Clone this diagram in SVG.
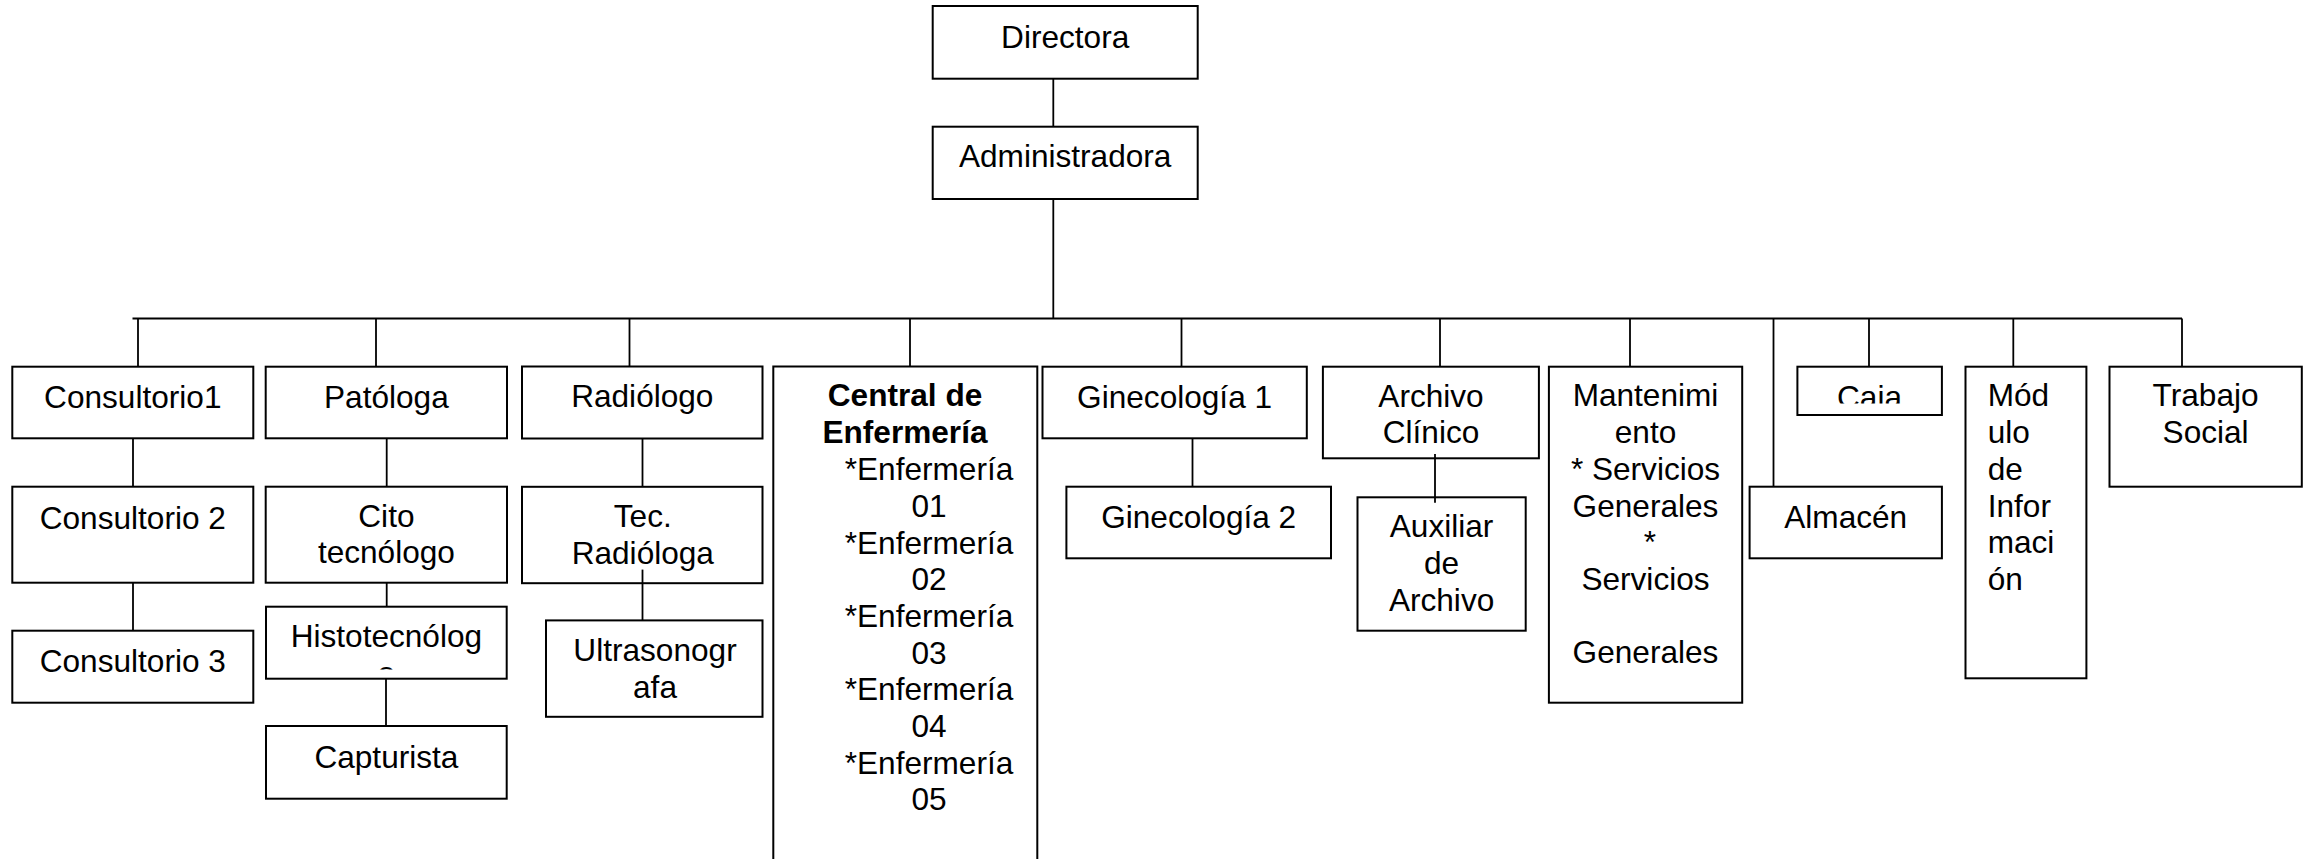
<svg xmlns="http://www.w3.org/2000/svg" width="2313" height="859" viewBox="0 0 2313 859">
<style>
rect.b{fill:#fff;stroke:#000;stroke-width:2}
text{font-family:"Liberation Sans",Arial,sans-serif;font-size:31.6px;fill:#000}
.c{text-anchor:middle}
.bold{font-weight:bold}
#connectors line{stroke:#000;stroke-width:1.8}
</style>
<defs>
<clipPath id="clipCaja"><rect x="1797" y="366" width="145" height="37.5"/></clipPath>
<clipPath id="clipHisto"><rect x="266" y="606" width="241" height="63.5"/></clipPath>
</defs>
<rect width="2313" height="859" fill="#fff"/>
<g id="connectors">
<line x1="1053.3" y1="78.7" x2="1053.3" y2="126.7"/>
<line x1="1053.3" y1="199" x2="1053.3" y2="318.5"/>
<line x1="132.5" y1="318.5" x2="2182" y2="318.5"/>
<line x1="138" y1="318.5" x2="138" y2="366.7"/>
<line x1="376" y1="318.5" x2="376" y2="366.7"/>
<line x1="629.5" y1="318.5" x2="629.5" y2="366.5"/>
<line x1="910" y1="318.5" x2="910" y2="366.5"/>
<line x1="1181.5" y1="318.5" x2="1181.5" y2="366.7"/>
<line x1="1440" y1="318.5" x2="1440" y2="366.7"/>
<line x1="1630" y1="318.5" x2="1630" y2="366.7"/>
<line x1="1773.5" y1="318.5" x2="1773.5" y2="486.7"/>
<line x1="1869" y1="318.5" x2="1869" y2="366.7"/>
<line x1="2013.3" y1="318.5" x2="2013.3" y2="366.7"/>
<line x1="2182" y1="318.5" x2="2182" y2="366.7"/>
<line x1="133" y1="438.3" x2="133" y2="486.7"/>
<line x1="133" y1="582.7" x2="133" y2="630.7"/>
<line x1="386.7" y1="438.3" x2="386.7" y2="486.7"/>
<line x1="386.7" y1="582.7" x2="386.7" y2="606.7"/>
<line x1="386" y1="678.7" x2="386" y2="726"/>
<line x1="642.5" y1="438.5" x2="642.5" y2="486.8"/>
<line x1="642.5" y1="569.6" x2="642.5" y2="620.4"/>
<line x1="1192.5" y1="438.3" x2="1192.5" y2="486.7"/>
</g>
<g id="directora"><rect class="b" x="932.7" y="6" width="265" height="72.7"/><text class="c" x="1065.2" y="48.3">Directora</text></g>
<g id="administradora"><rect class="b" x="932.7" y="126.7" width="265" height="72.3"/><text class="c" x="1065.2" y="166.7">Administradora</text></g>
<g id="consultorio1"><rect class="b" x="12.3" y="366.7" width="241" height="71.6"/><text class="c" x="132.8" y="408">Consultorio1</text></g>
<g id="consultorio2"><rect class="b" x="12.3" y="486.7" width="241" height="96"/><text class="c" x="132.8" y="529">Consultorio 2</text></g>
<g id="consultorio3"><rect class="b" x="12.3" y="630.7" width="241" height="72"/><text class="c" x="132.8" y="671.7">Consultorio 3</text></g>
<g id="patologa"><rect class="b" x="265.7" y="366.7" width="241.3" height="71.6"/><text class="c" x="386.4" y="408">Patóloga</text></g>
<g id="citotecnologo"><rect class="b" x="265.7" y="486.7" width="241.3" height="96"/><text class="c" x="386.4" y="526.7">Cito</text><text class="c" x="386.4" y="563.3">tecnólogo</text></g>
<g id="histotecnologo"><rect class="b" x="266" y="606.7" width="240.7" height="72"/><g clip-path="url(#clipHisto)"><text class="c" x="386.4" y="646.7">Histotecnólog</text><text class="c" x="386.4" y="683.5">o</text></g></g>
<g id="capturista"><rect class="b" x="266" y="726" width="240.7" height="72.7"/><text class="c" x="386.4" y="768">Capturista</text></g>
<g id="radiologo"><rect class="b" x="522" y="366.5" width="240.5" height="72"/><text class="c" x="642.3" y="406.5">Radiólogo</text></g>
<g id="tecradiologa"><rect class="b" x="522" y="486.8" width="240.5" height="96.4"/><text class="c" x="642.8" y="526.8">Tec.</text><text class="c" x="642.8" y="564.3">Radióloga</text><line x1="642.5" y1="569.6" x2="642.5" y2="583.2" stroke="#000" stroke-width="1.8"/></g>
<g id="ultrasonografa"><rect class="b" x="546" y="620.4" width="216.5" height="96.4"/><text class="c" x="655" y="661.4">Ultrasonogr</text><text class="c" x="655" y="697.5">afa</text></g>
<g id="central"><rect class="b" x="773.3" y="366.5" width="264" height="510"/>
<text class="c bold" x="905" y="406">Central de</text>
<text class="c bold" x="905" y="442.9">Enfermería</text>
<text class="c" x="929" y="480.4">*Enfermería</text>
<text class="c" x="929" y="517">01</text>
<text class="c" x="929" y="553.6">*Enfermería</text>
<text class="c" x="929" y="590.3">02</text>
<text class="c" x="929" y="627">*Enfermería</text>
<text class="c" x="929" y="663.6">03</text>
<text class="c" x="929" y="700.3">*Enfermería</text>
<text class="c" x="929" y="737">04</text>
<text class="c" x="929" y="773.6">*Enfermería</text>
<text class="c" x="929" y="810.3">05</text>
</g>
<g id="ginecologia1"><rect class="b" x="1042.5" y="366.7" width="264.3" height="71.6"/><text class="c" x="1174.6" y="408">Ginecología 1</text></g>
<g id="ginecologia2"><rect class="b" x="1066.4" y="486.7" width="264.6" height="71.6"/><text class="c" x="1198.7" y="528">Ginecología 2</text></g>
<g id="archivoclinico"><rect class="b" x="1322.9" y="366.7" width="216" height="91.6"/><text class="c" x="1431" y="406.7">Archivo</text><text class="c" x="1431" y="443.3">Clínico</text></g>
<g id="auxiliararchivo"><rect class="b" x="1357.5" y="497.3" width="168.2" height="133.4"/><text class="c" x="1441.6" y="537.3">Auxiliar</text><text class="c" x="1441.6" y="574">de</text><text class="c" x="1441.6" y="610.7">Archivo</text></g>
<line x1="1435" y1="454" x2="1435" y2="502.7" stroke="#000" stroke-width="1.8"/>
<g id="mantenimiento"><rect class="b" x="1548.9" y="366.7" width="193.3" height="336"/>
<text class="c" x="1645.5" y="406">Mantenimi</text>
<text class="c" x="1645.5" y="442.7">ento</text>
<text class="c" x="1645.5" y="480">* Servicios</text>
<text class="c" x="1645.5" y="516.7">Generales</text>
<text class="c" x="1650" y="553.3">*</text>
<text class="c" x="1645.5" y="590">Servicios</text>
<text class="c" x="1645.5" y="663.3">Generales</text>
</g>
<g id="almacen"><rect class="b" x="1749.6" y="486.7" width="192.3" height="71.6"/><text class="c" x="1845.7" y="528">Almacén</text></g>
<g id="caja"><rect class="b" x="1797.4" y="366.7" width="144.5" height="48.3"/><g clip-path="url(#clipCaja)"><text class="c" x="1869.5" y="407.6">Caja</text></g></g>
<g id="modulo"><rect class="b" x="1965.5" y="366.7" width="120.9" height="311.6"/>
<text x="1987.7" y="406">Mód</text>
<text x="1987.7" y="442.7">ulo</text>
<text x="1987.7" y="480">de</text>
<text x="1987.7" y="516.7">Infor</text>
<text x="1987.7" y="553.3">maci</text>
<text x="1987.7" y="590">ón</text>
</g>
<g id="trabajosocial"><rect class="b" x="2109.5" y="366.7" width="192.3" height="120"/><text class="c" x="2205.6" y="406">Trabajo</text><text class="c" x="2205.6" y="442.7">Social</text></g>
</svg>
